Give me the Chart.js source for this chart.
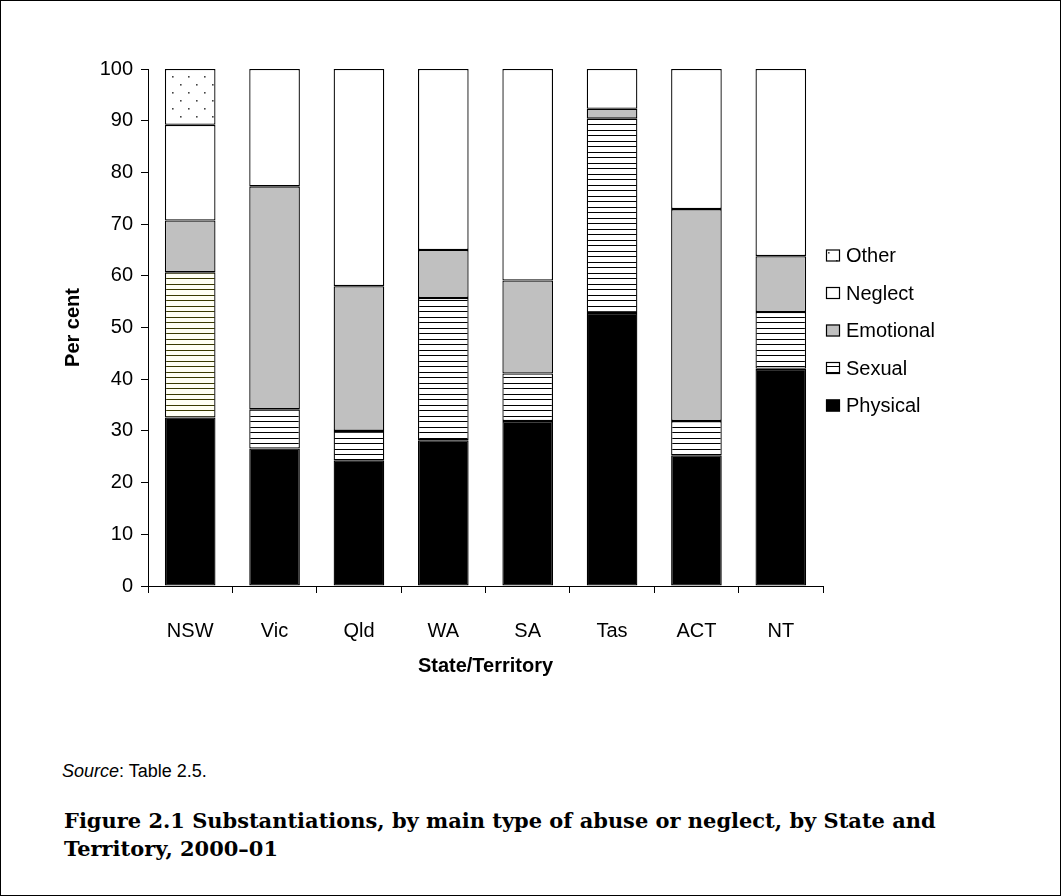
<!DOCTYPE html>
<html>
<head>
<meta charset="utf-8">
<script src="https://cdn.jsdelivr.net/npm/chart.js@4.4.0/dist/chart.umd.min.js"></script>
<style>
  html, body { margin: 0; padding: 0; background: #fff; }
  #frame { position: relative; width: 1061px; height: 896px; border: 1px solid #000; box-sizing: border-box; overflow: hidden; }
  #wrap { position: absolute; left: 39px; top: 39px; width: 920px; height: 646px; }
  #source { position: absolute; left: 61px; top: 761px; font: 18px/18px "Liberation Sans", Arial, sans-serif; color: #000; }
  #caption { position: absolute; left: 63px; top: 806px; font-weight: bold; font-family: "DejaVu Serif", serif; font-size: 20px; line-height: 28px; color: #000; white-space: nowrap; }
</style>
</head>
<body>
<div id="frame">
  <div id="wrap"><canvas id="chart"></canvas></div>
  <div id="source"><i>Source</i>: Table 2.5.</div>
  <div id="caption"><span id="cap1">Figure 2.1 Substantiations, by main type of abuse or neglect, by State and</span><br>Territory, 2000–01</div>
</div>
<script>
const states = ['NSW', 'Vic', 'Qld', 'WA', 'SA', 'Tas', 'ACT', 'NT'];
const physical  = [32.6, 26.6, 24.3, 28.2, 31.9, 52.8, 25.3, 42.0];
const sexual    = [28.1,  7.6,  5.7, 27.5,  9.2, 37.6,  6.6, 11.0];
const emotional = [10.0, 43.1, 28.0,  9.3, 18.0,  1.9, 41.0, 10.8];
const neglect   = [18.5, 22.7, 42.0, 35.0, 40.9,  7.7, 27.1, 36.2];
const other     = [10.8,  0,    0,    0,    0,    0,    0,    0];
const yTicks = [0, 10, 20, 30, 40, 50, 60, 70, 80, 90, 100];

const FONT = '"Liberation Sans", Arial, sans-serif';

// caption: fit first line to the reference width
(function () {
  const cap = document.getElementById('caption');
  const w = document.getElementById('cap1').getBoundingClientRect().width;
  cap.style.fontSize = (20 * 872 / w).toFixed(2) + 'px';
})();

// fill patterns
function stripes(line, bg) {
  const c = document.createElement('canvas');
  c.width = 8; c.height = 11;
  const g = c.getContext('2d');
  g.fillStyle = bg; g.fillRect(0, 0, 8, 11);
  g.fillStyle = line;
  g.fillRect(0, 2, 8, 1);
  g.fillRect(0, 7, 8, 1);
  return g.createPattern(c, 'repeat');
}
function dots() {
  const c = document.createElement('canvas');
  c.width = 16; c.height = 16;
  const g = c.getContext('2d');
  g.fillStyle = '#fff'; g.fillRect(0, 0, 16, 16);
  g.fillStyle = '#444';
  g.fillRect(4, 4, 1.6, 1.6);
  g.fillRect(12, 12, 1.6, 1.6);
  return g.createPattern(c, 'repeat');
}
const stripeFill = stripes('#000', '#fff');
const oliveStripe = stripes('#3a3a00', '#fffff4');
const dotFill = dots();

// legend drawn at the right edge of the plot, reversed order
const sideLegend = {
  id: 'sideLegend',
  afterDraw(chart) {
    const { ctx, chartArea } = chart;
    const items = chart.data.datasets.slice().reverse();
    const x0 = chartArea.right + 3;
    const yMid = (chartArea.top + chartArea.bottom) / 2;
    ctx.save();
    ctx.font = '20px ' + FONT;
    ctx.textBaseline = 'middle';
    items.forEach((ds, i) => {
      const y = yMid - 72 + i * 37.5;
      const bg = Array.isArray(ds.backgroundColor) ? ds.backgroundColor[1] : ds.backgroundColor;
      ctx.fillStyle = bg;
      ctx.fillRect(x0, y - 6, 14, 12);
      ctx.strokeStyle = '#000';
      ctx.lineWidth = 1.2;
      ctx.strokeRect(x0 + 0.5, y - 5.5, 13, 11);
      ctx.fillStyle = '#000';
      ctx.fillText(ds.label, x0 + 20, y + 1);
    });
    ctx.restore();
  }
};

const common = { borderColor: '#000', borderWidth: 1.3, borderSkipped: false, barPercentage: 0.6, categoryPercentage: 1 };

new Chart(document.getElementById('chart'), {
  type: 'bar',
  data: {
    labels: states,
    datasets: [
      { label: 'Physical', data: physical, backgroundColor: '#000', ...common },
      { label: 'Sexual', data: sexual, backgroundColor: states.map((s, i) => i === 0 ? oliveStripe : stripeFill), ...common },
      { label: 'Emotional', data: emotional, backgroundColor: '#c0c0c0', ...common },
      { label: 'Neglect', data: neglect, backgroundColor: '#fff', ...common },
      { label: 'Other', data: other, backgroundColor: dotFill, ...common }
    ]
  },
  options: {
    responsive: true,
    maintainAspectRatio: false,
    animation: false,
    layout: { padding: { top: 29, right: 137, bottom: 0, left: 0 } },
    plugins: { legend: { display: false }, tooltip: { enabled: false } },
    scales: {
      x: {
        stacked: true,
        afterFit: s => { s.height = 100; },
        grid: { offset: true, drawOnChartArea: false, color: '#000', tickLength: 7, lineWidth: 1 },
        border: { color: '#000', width: 1 },
        ticks: { color: '#000', font: { family: FONT, size: 20 }, padding: 26, maxRotation: 0 },
        title: { display: true, text: 'State/Territory', color: '#000', font: { family: FONT, size: 20, weight: 'bold' }, padding: { top: 0, bottom: 8 } }
      },
      y: {
        stacked: true,
        min: 0, max: 100,
        afterFit: s => { s.width = 108; },
        afterBuildTicks: s => { s.ticks = yTicks.map(v => ({ value: v })); },
        grid: { drawOnChartArea: false, color: '#000', tickLength: 7, lineWidth: 1 },
        border: { color: '#000', width: 1 },
        ticks: { color: '#000', font: { family: FONT, size: 20 }, padding: 8 },
        title: { display: true, text: 'Per cent', color: '#000', font: { family: FONT, size: 20, weight: 'bold' }, padding: { top: 21, bottom: 0 } }
      }
    }
  },
  plugins: [sideLegend]
});
</script>
</body>
</html>
